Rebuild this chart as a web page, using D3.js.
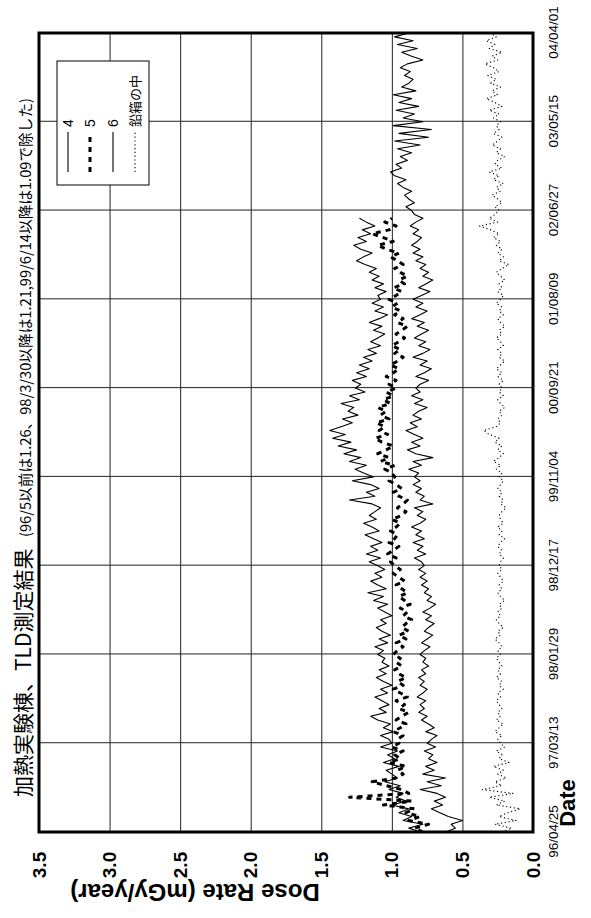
<!DOCTYPE html>
<html>
<head>
<meta charset="utf-8">
<script src="https://cdn.jsdelivr.net/npm/d3@7"></script>
<style>
  body { margin: 0; background: #fff; }
  svg { display: block; }
  text { font-family: "Liberation Sans", Arial, sans-serif; fill: #000; }
  .jp { font-family: "Noto Sans CJK JP", sans-serif; }
</style>
</head>
<body>
<div id="chart"></div>
<script>
// sampling: one reading every 14 days from the first date
const startDate = "96/04/25";
const stepDays = 14;

const tickDates = ["96/04/25", "97/03/13", "98/01/29", "98/12/17", "99/11/04",
                   "00/09/21", "01/08/09", "02/06/27", "03/05/15", "04/04/01"];
const doseTicks = [0, 0.5, 1.0, 1.5, 2.0, 2.5, 3.0, 3.5];

const seriesNames = ["4", "5", "6", "鉛箱の中"];

const series4 = [
  0.80,0.88,0.78,0.92,0.86,0.95,0.88,1.00,0.90,0.97,0.92,1.02,0.94,1.05,0.96,1.00,1.04,0.95,1.06,0.98,1.03,0.96,1.08,1.00,
  1.02,1.08,0.99,1.06,1.01,1.10,1.15,1.04,1.09,1.02,1.07,1.12,1.03,1.08,1.00,1.06,1.11,1.04,1.09,1.02,1.07,1.05,1.10,
  1.06,1.12,1.03,1.09,1.01,1.07,1.11,1.04,1.08,1.00,1.05,1.10,1.03,1.13,1.06,1.17,1.04,1.10,1.15,1.07,1.12,1.05,1.10,
  1.16,1.08,1.18,1.10,1.15,1.07,1.13,1.19,1.09,1.14,1.20,1.11,1.16,1.12,1.08,1.14,1.30,1.12,1.18,1.09,1.15,1.28,1.13,
  1.20,1.26,1.18,1.30,1.22,1.34,1.25,1.38,1.29,1.42,1.33,1.44,1.36,1.28,1.35,1.24,1.31,1.27,1.36,1.23,1.30,1.19,1.26,
  1.22,1.28,1.18,1.25,1.16,1.23,1.14,1.20,1.11,1.17,1.08,1.15,1.10,1.05,1.13,1.07,1.16,1.09,1.03,1.12,1.06,1.14,1.08,
  1.10,1.04,1.12,1.06,1.14,1.09,1.16,1.11,1.19,1.25,1.20,1.14,1.22,1.27,1.18,1.24,1.15,1.21,1.12,1.18,1.23
];
const series5 = [
  0.78,0.84,0.74,0.88,0.80,0.90,0.84,1.06,0.86,1.30,0.88,0.93,1.04,1.14,0.97,0.92,0.96,0.90,1.02,0.94,0.98,0.92,1.00,0.95,
  0.96,0.92,0.99,0.94,0.90,0.97,0.93,0.88,0.95,0.91,0.97,0.89,0.94,0.99,0.92,0.96,0.90,0.95,0.98,0.93,0.97,0.94,0.99,
  0.96,0.92,0.97,0.90,0.95,0.88,0.93,0.90,0.86,0.92,0.89,0.94,0.87,0.91,0.95,0.89,0.93,0.97,0.91,0.95,0.99,0.94,0.98,
  1.01,0.97,1.03,0.99,0.95,1.02,0.98,0.96,1.01,0.97,0.94,1.00,0.93,0.90,0.96,0.92,0.89,0.95,0.99,0.93,0.97,1.02,0.98,
  1.00,1.05,0.98,1.08,1.02,1.10,1.04,0.99,1.07,1.12,1.03,1.09,1.05,1.11,1.02,1.08,1.04,1.10,1.01,1.06,0.99,1.04,0.97,
  1.02,0.97,1.04,0.99,0.95,1.01,0.96,0.92,0.98,0.94,1.00,0.95,0.91,0.97,0.93,0.89,0.96,0.92,0.98,0.94,1.00,0.96,1.02,
  0.97,0.93,0.99,0.91,0.95,0.89,0.94,0.98,0.92,0.96,1.01,0.95,1.04,1.10,0.99,1.06,1.14,1.02,0.97,1.05,1.00
];
const series6 = [
  0.62,0.55,0.58,0.50,0.60,0.66,0.72,0.64,0.70,0.62,0.68,0.80,0.65,0.75,0.62,0.78,0.70,0.76,0.68,0.74,0.71,0.77,0.69,0.75,
  0.72,0.68,0.76,0.70,0.74,0.79,0.75,0.81,0.77,0.80,0.76,0.82,0.78,0.75,0.80,0.77,0.81,0.76,0.79,0.74,0.78,0.76,0.80,
  0.77,0.73,0.79,0.75,0.71,0.77,0.74,0.70,0.76,0.72,0.78,0.73,0.69,0.75,0.72,0.77,0.74,0.79,0.75,0.80,0.76,0.81,0.77,
  0.79,0.84,0.76,0.82,0.78,0.85,0.77,0.83,0.79,0.86,0.80,0.76,0.82,0.78,0.84,0.71,0.80,0.77,0.83,0.79,0.85,0.80,0.84,
  0.81,0.88,0.79,0.85,0.71,0.83,0.89,0.80,0.86,0.78,0.84,0.90,0.82,0.87,0.79,0.85,0.81,0.75,0.84,0.78,0.86,0.80,0.83,
  0.80,0.74,0.83,0.77,0.72,0.80,0.75,0.85,0.78,0.73,0.81,0.76,0.84,0.79,0.74,0.82,0.77,0.86,0.80,0.75,0.83,0.78,0.85,
  0.79,0.73,0.81,0.76,0.71,0.78,0.74,0.80,0.76,0.83,0.78,0.85,0.80,0.86,0.82,0.79,0.85,0.81,0.87,0.83,0.78,0.84,
  0.86,0.90,0.84,0.88,0.91,0.86,0.92,0.96,0.90,0.98,1.01,0.93,0.97,0.89,0.94,0.86,0.96,0.80,0.98,0.74,0.95,0.72,0.99,0.78,
  0.92,0.84,0.97,0.81,0.95,0.86,0.99,0.83,0.93,0.88,0.85,0.91,0.87,0.94,0.89,0.78,0.86,0.93,0.82,0.96,0.85,0.98,0.88
];
const seriesLead = [
  0.22,0.15,0.27,0.12,0.24,0.18,0.09,0.26,0.20,0.31,0.14,0.36,0.22,0.27,0.19,0.25,0.21,0.28,0.17,0.24,0.22,0.26,0.20,0.23,
  0.25,0.22,0.27,0.24,0.21,0.26,0.23,0.25,0.22,0.24,0.26,0.23,0.25,0.21,0.24,0.22,0.26,0.23,0.25,0.22,0.24,0.26,0.23,
  0.25,0.22,0.24,0.27,0.23,0.25,0.21,0.24,0.26,0.23,0.25,0.22,0.24,0.20,0.23,0.25,0.22,0.24,0.21,0.23,0.25,0.22,0.24,
  0.23,0.21,0.24,0.22,0.25,0.23,0.20,0.24,0.22,0.25,0.21,0.23,0.24,0.22,0.19,0.23,0.21,0.24,0.22,0.25,0.23,0.21,0.24,
  0.22,0.26,0.23,0.28,0.24,0.21,0.25,0.22,0.27,0.24,0.31,0.35,0.26,0.23,0.25,0.22,0.24,0.20,0.23,0.25,0.21,0.24,0.22,
  0.24,0.21,0.25,0.22,0.26,0.23,0.20,0.24,0.22,0.25,0.21,0.23,0.26,0.22,0.24,0.20,0.23,0.25,0.21,0.24,0.22,0.26,0.23,
  0.21,0.25,0.22,0.24,0.20,0.23,0.26,0.22,0.17,0.24,0.21,0.25,0.22,0.26,0.23,0.28,0.24,0.30,0.38,0.25,0.31,0.27,
  0.24,0.27,0.22,0.25,0.29,0.23,0.26,0.21,0.28,0.24,0.31,0.22,0.27,0.25,0.20,0.26,0.23,0.29,0.25,0.22,0.28,0.24,0.26,0.23,
  0.28,0.24,0.31,0.22,0.27,0.33,0.25,0.29,0.23,0.30,0.26,0.32,0.24,0.28,0.34,0.25,0.29,0.22,0.31,0.27,0.33,0.26,0.30
];

const seriesStyle = [
  { width: 1.1, dash: null },
  { width: 3, dash: "5,5" },
  { width: 1.1, dash: null },
  { width: 1.1, dash: "1.2,2.6" }
];

function drawChart() {
  const W = 591, H = 918;
  // the chart is built landscape (date across) and turned a quarter turn
  const plot = { left: 86, right: 885, top: 39, bottom: 533 };
  const parse = d3.timeParse("%y/%m/%d");

  const svg = d3.select("#chart").append("svg")
      .attr("width", W)
      .attr("height", H);

  const g = svg.append("g")
      .attr("transform", `translate(0,${H}) rotate(-90)`);

  const x = d3.scaleTime()
      .domain([parse(tickDates[0]), parse(tickDates[tickDates.length - 1])])
      .range([plot.left, plot.right]);
  const y = d3.scaleLinear()
      .domain([0, 3.5])
      .range([plot.bottom, plot.top]);

  const t0 = parse(startDate);
  const dateAt = i => d3.timeDay.offset(t0, i * stepDays);

  // grid
  g.append("g")
      .attr("transform", `translate(0,${plot.bottom})`)
      .call(d3.axisBottom(x).tickValues(tickDates.map(parse))
          .tickSize(-(plot.bottom - plot.top)).tickFormat(""))
      .call(a => a.select(".domain").remove())
      .selectAll("line").attr("stroke", "#222").attr("stroke-width", 1);
  g.append("g")
      .attr("transform", `translate(${plot.left},0)`)
      .call(d3.axisLeft(y).tickValues(doseTicks)
          .tickSize(-(plot.right - plot.left)).tickFormat(""))
      .call(a => a.select(".domain").remove())
      .selectAll("line").attr("stroke", "#222").attr("stroke-width", 1);

  // tick labels
  const xAxis = g.append("g")
      .attr("transform", `translate(0,${plot.bottom})`)
      .call(d3.axisBottom(x).tickValues(tickDates.map(parse))
          .tickFormat(d3.timeFormat("%y/%m/%d")).tickSize(0).tickPadding(15));
  xAxis.select(".domain").remove();
  xAxis.selectAll("text")
      .style("font-size", "13.5px")
      .style("font-family", "'Liberation Sans', Arial, sans-serif");

  const yAxis = g.append("g")
      .attr("transform", `translate(${plot.left},0)`)
      .call(d3.axisLeft(y).tickValues(doseTicks)
          .tickFormat(d3.format(".1f")).tickSize(0));
  yAxis.select(".domain").remove();
  yAxis.selectAll("text")
      .attr("text-anchor", "middle")
      .attr("x", -33)
      .style("font-size", "19px")
      .style("font-weight", "bold")
      .style("font-family", "'Liberation Sans', Arial, sans-serif");

  // series
  const allSeries = [series4, series5, series6, seriesLead];
  const line = d3.line()
      .x((d, i) => x(dateAt(i)))
      .y(d => y(d));

  allSeries.forEach((s, k) => {
    g.append("path")
        .datum(s)
        .attr("fill", "none")
        .attr("stroke", "#000")
        .attr("stroke-width", seriesStyle[k].width)
        .attr("stroke-dasharray", seriesStyle[k].dash)
        .attr("stroke-linejoin", "round")
        .attr("d", line);
  });

  // frame
  g.append("rect")
      .attr("x", plot.left)
      .attr("y", plot.top)
      .attr("width", plot.right - plot.left)
      .attr("height", plot.bottom - plot.top)
      .attr("fill", "none")
      .attr("stroke", "#000")
      .attr("stroke-width", 3);

  // legend
  const lg = g.append("g");
  lg.append("rect")
      .attr("x", 733).attr("y", 57)
      .attr("width", 124).attr("height", 92)
      .attr("fill", "#fff")
      .attr("stroke", "#000")
      .attr("stroke-width", 1);
  const rows = [68, 90, 113, 135];
  seriesNames.forEach((name, k) => {
    lg.append("line")
        .attr("x1", 746).attr("x2", 786)
        .attr("y1", rows[k]).attr("y2", rows[k])
        .attr("stroke", "#000")
        .attr("stroke-width", seriesStyle[k].width)
        .attr("stroke-dasharray", seriesStyle[k].dash);
    lg.append("text")
        .attr("class", k === 3 ? "jp" : null)
        .attr("x", 791)
        .attr("y", rows[k])
        .attr("dy", "0.35em")
        .style("font-size", k === 3 ? "13px" : "14px")
        .text(name);
  });

  // titles
  g.append("text")
      .attr("class", "jp")
      .attr("x", 121)
      .attr("y", 31)
      .style("font-size", "21px")
      .text("加熱実験棟、TLD測定結果");
  g.append("text")
      .attr("class", "jp")
      .attr("x", 381)
      .attr("y", 31)
      .attr("textLength", 439)
      .attr("lengthAdjust", "spacingAndGlyphs")
      .style("font-size", "14.5px")
      .text("(96/5以前は1.26、98/3/30以降は1.21,99/6/14以降は1.09で除した)");

  g.append("text")
      .attr("transform", "translate(34,195) rotate(-90)")
      .attr("text-anchor", "middle")
      .style("font-size", "24px")
      .style("font-weight", "bold")
      .text("Dose Rate (mGy/year)");

  g.append("text")
      .attr("x", 115)
      .attr("y", 575)
      .attr("text-anchor", "middle")
      .style("font-size", "22px")
      .style("font-weight", "bold")
      .text("Date");
}

document.addEventListener("DOMContentLoaded", drawChart);
</script>
</body>
</html>
